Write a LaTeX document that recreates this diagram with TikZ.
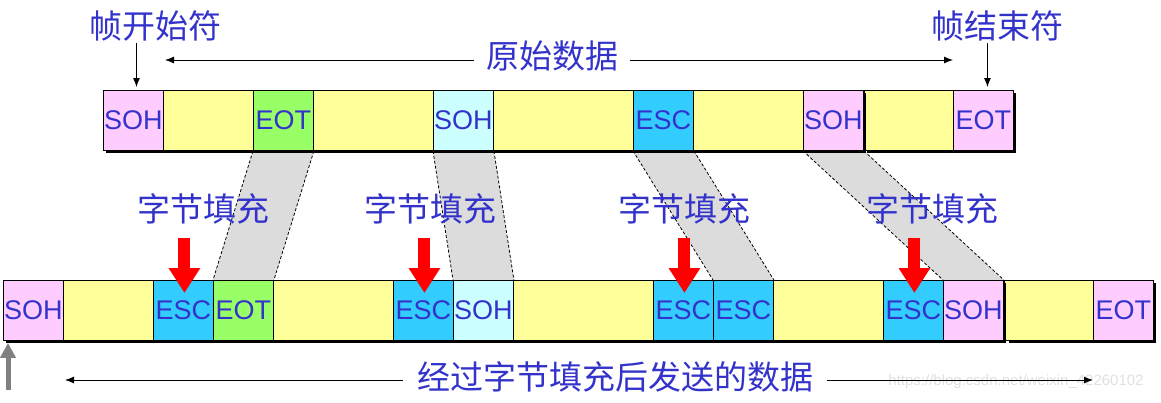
\documentclass[tikz,border=0pt]{standalone}
\usepackage{fontspec}
\setmainfont{Liberation Sans}
\newfontfamily\cjk{Noto Sans CJK SC}
\usetikzlibrary{arrows.meta,calc,backgrounds}
\definecolor{txtblue}{RGB}{51,51,204}
\definecolor{cpink}{RGB}{255,204,255}
\definecolor{cyellow}{RGB}{255,255,153}
\definecolor{cgreen}{RGB}{153,255,102}
\definecolor{ccyan}{RGB}{204,255,255}
\definecolor{cesc}{RGB}{51,204,255}
\definecolor{cgrey}{RGB}{220,220,220}
\tikzset{
  cell/.style={draw=black, line width=0.9pt, minimum width=#1, minimum height=60pt,
    inner sep=0pt, anchor=north west, font=\fontsize{27}{27}\selectfont, text=txtblue},
  cell/.default=60pt,
  lab/.style={font=\cjk\fontsize{33}{33}\selectfont, text=txtblue, inner sep=2pt},
  thinarrow/.style={line width=0.9pt, -{Latex[length=9pt,width=7pt]}},
  redarrow/.style={draw=red, line width=12pt, -{Triangle[length=25pt,width=30pt]}, red},
  grayarrow/.style={draw=gray, line width=5pt, -{Triangle[length=15pt,width=15pt]}, gray},
  band/.style={fill=cgrey},
  bandedge/.style={line width=0.8pt, dash pattern=on 3pt off 2pt},
  shadow/.style={fill=black}
}
\begin{document}
\begin{tikzpicture}[x=1pt,y=-1pt]
\useasboundingbox (0,0) rectangle (1161,402);

% ---------- top row ----------
\fill[shadow] (867,93) rectangle (1016,153);
\node[cell=89pt, fill=cyellow] (t10) at (864,90) {};
\node[cell, fill=cpink] (t11) at (953,90) {EOT};
\fill[shadow] (106,93) rectangle (866,153);
\node[cell, fill=cpink] (t1) at (103,90) {SOH};
\node[cell=90pt, fill=cyellow] (t2) at (163,90) {};
\node[cell, fill=cgreen] (t3) at (253,90) {EOT};
\node[cell=120pt, fill=cyellow] (t4) at (313,90) {};
\node[cell, fill=ccyan] (t5) at (433,90) {SOH};
\node[cell=140pt, fill=cyellow] (t6) at (493,90) {};
\node[cell, fill=cesc] (t7) at (633,90) {ESC};
\node[cell=110pt, fill=cyellow] (t8) at (693,90) {};
\node[cell, fill=cpink] (t9) at (803,90) {SOH};

% ---------- bottom row ----------
\fill[shadow] (1009,283) rectangle (1156,343);
\node[cell=89pt, fill=cyellow] (b14) at (1004,280) {};
\node[cell, fill=cpink] (b15) at (1093,280) {EOT};
\fill[shadow] (6,283) rectangle (1006,343);
\node[cell, fill=cpink] (b1) at (3,280) {SOH};
\node[cell=90pt, fill=cyellow] (b2) at (63,280) {};
\node[cell, fill=cesc] (b3) at (153,280) {ESC};
\node[cell, fill=cgreen] (b4) at (213,280) {EOT};
\node[cell=120pt, fill=cyellow] (b5) at (273,280) {};
\node[cell, fill=cesc] (b6) at (393,280) {ESC};
\node[cell, fill=ccyan] (b7) at (453,280) {SOH};
\node[cell=140pt, fill=cyellow] (b8) at (513,280) {};
\node[cell, fill=cesc] (b9) at (653,280) {ESC};
\node[cell, fill=cesc] (b10) at (713,280) {ESC};
\node[cell=110pt, fill=cyellow] (b11) at (773,280) {};
\node[cell, fill=cesc] (b12) at (883,280) {ESC};
\node[cell, fill=cpink] (b13) at (943,280) {SOH};

% ---------- grey bands ----------
\begin{scope}[on background layer]
\foreach \u/\l in {t3/b4, t5/b7, t7/b10, t9/b13}{
  \fill[band] (\u.south west) -- (\u.south east) -- (\l.north east) -- (\l.north west) -- cycle;
  \draw[bandedge] (\u.south west) -- (\l.north west);
  \draw[bandedge] (\u.south east) -- (\l.north east);
}
\end{scope}

% ---------- top labels ----------
\node[lab] (lstart) at (155,26) {帧开始符};
\node[lab] (lend) at (997,26) {帧结束符};
\node[lab, inner xsep=12pt] (ldata) at (552,56) {原始数据};
\coordinate (a1) at ($(t1.north)+(3,-3)$);
\coordinate (a2) at ($(t11.north)+(4,-3)$);
\draw[thinarrow] (lstart.south -| a1) -- (a1);
\draw[thinarrow] (lend.south -| a2) -- (a2);
\coordinate (dl) at (165,60);
\coordinate (dr) at (953,60);
\draw[thinarrow] (ldata.west |- dl) -- (dl);
\draw[thinarrow] (ldata.east |- dr) -- (dr);

% ---------- stuffing labels and red arrows ----------
\node[lab] (f1) at (203,209) {字节填充};
\node[lab] (f2) at (430,209) {字节填充};
\node[lab] (f3) at (684,209) {字节填充};
\node[lab] (f4) at (932,209) {字节填充};
\foreach \c in {b3,b6,b9,b12}{
  \draw[redarrow] ($(\c.north)+(1,-42)$) -- ($(\c.north)+(1,13)$);
}

% ---------- bottom label ----------
\node[lab, inner xsep=14pt] (lsent) at (615,377) {经过字节填充后发送的数据};
\coordinate (sl) at (65,380);
\coordinate (sr) at (1093,380);
\draw[thinarrow] (lsent.west |- sl) -- (sl);
\draw[thinarrow] (lsent.east |- sr) -- (sr);
\coordinate (g1) at ($(b1.south west)+(5,2)$);
\draw[grayarrow] (g1 |- 0,390) -- (g1);

\node[font=\fontsize{15}{15}\selectfont, text=black, opacity=0.12] (wm) at (1016,382) {https://blog.csdn.net/weixin\_42260102};
\end{tikzpicture}
\end{document}
